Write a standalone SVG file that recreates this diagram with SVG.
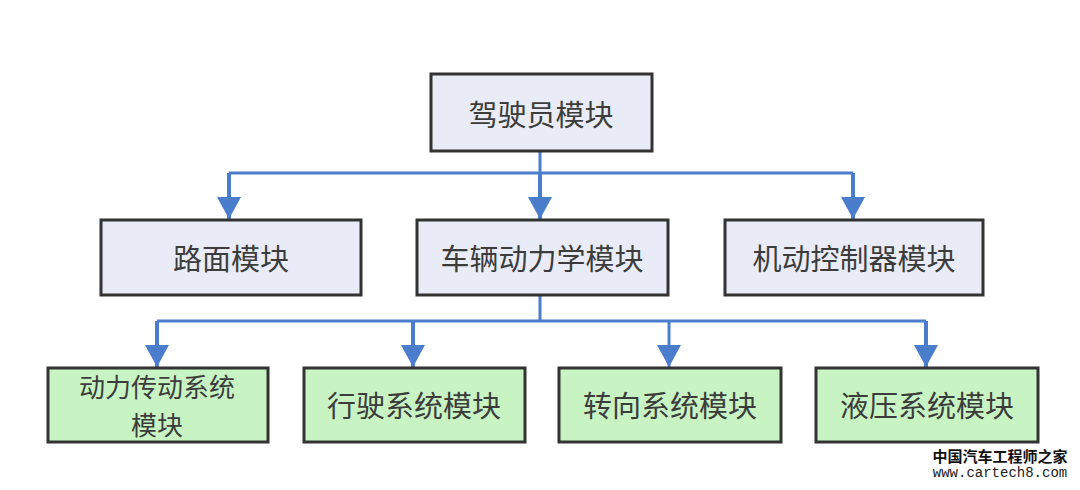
<svg xmlns="http://www.w3.org/2000/svg" width="1080" height="490" viewBox="0 0 1080 490">
<defs>
<style>
.box{fill:#e9ecf6;stroke:#333;stroke-width:3}
.gbox{fill:#c8f4c4;stroke:#333;stroke-width:3}
.t{font-family:"Noto Sans CJK SC","Noto Sans",sans-serif;font-size:29px;fill:#3c3c3c;text-anchor:middle;dominant-baseline:central}
.t2{font-size:26px}
.ln{fill:none;stroke:#4a7dcc;stroke-width:3}
.st{fill:none;stroke:#4a7dcc;stroke-width:4}
</style>
<marker id="ah" markerUnits="userSpaceOnUse" markerWidth="24" markerHeight="24" refX="22" refY="12" orient="auto" viewBox="0 0 24 24">
<path d="M0,0 L22,12 L0,24 Z" fill="#4a7dcc"/>
</marker>
</defs>
<rect width="1080" height="490" fill="#fff"/>
<g id="connectors">
<path class="ln" d="M540,151 V173 M229,173 H853"/>
<line class="st" x1="229" y1="173" x2="229" y2="219" marker-end="url(#ah)"/>
<line class="st" x1="540" y1="173" x2="540" y2="219" marker-end="url(#ah)"/>
<line class="st" x1="853" y1="173" x2="853" y2="219" marker-end="url(#ah)"/>
<path class="ln" d="M540,295 V321 M157,321 H926"/>
<line class="st" x1="157" y1="321" x2="157" y2="367" marker-end="url(#ah)"/>
<line class="st" x1="413" y1="321" x2="413" y2="367" marker-end="url(#ah)"/>
<line class="ln" x1="669" y1="321" x2="669" y2="367" marker-end="url(#ah)"/>
<line class="st" x1="926" y1="321" x2="926" y2="367" marker-end="url(#ah)"/>
</g>
<g id="driver">
<rect class="box" x="431" y="74" width="221" height="77"/>
<text class="t" x="541" y="113">驾驶员模块</text>
</g>
<g id="road">
<rect class="box" x="101" y="220" width="260" height="75"/>
<text class="t" x="231" y="257">路面模块</text>
</g>
<g id="vehicle">
<rect class="box" x="417" y="220" width="251" height="75"/>
<text class="t" x="542" y="257">车辆动力学模块</text>
</g>
<g id="controller">
<rect class="box" x="725" y="220" width="258" height="75"/>
<text class="t" x="854" y="257">机动控制器模块</text>
</g>
<g id="powertrain">
<rect class="gbox" x="48" y="368" width="220" height="74"/>
<text class="t t2" x="157" y="385">动力传动系统</text>
<text class="t t2" x="157" y="423">模块</text>
</g>
<g id="running">
<rect class="gbox" x="304" y="368" width="221" height="74"/>
<text class="t" x="414" y="404">行驶系统模块</text>
</g>
<g id="steering">
<rect class="gbox" x="559" y="368" width="222" height="74"/>
<text class="t" x="670" y="404">转向系统模块</text>
</g>
<g id="hydraulic">
<rect class="gbox" x="816" y="368" width="222" height="74"/>
<text class="t" x="927" y="404">液压系统模块</text>
</g>
<g id="watermark">
<text x="1000" y="455" font-family="'Noto Sans CJK SC',sans-serif" font-size="15" font-weight="bold" fill="#111" text-anchor="middle" dominant-baseline="central">中国汽车工程师之家</text>
<text x="1000" y="473" font-family="'Liberation Mono',monospace" font-size="14" fill="#222" text-anchor="middle" dominant-baseline="central">www.cartech8.com</text>
</g>
</svg>
